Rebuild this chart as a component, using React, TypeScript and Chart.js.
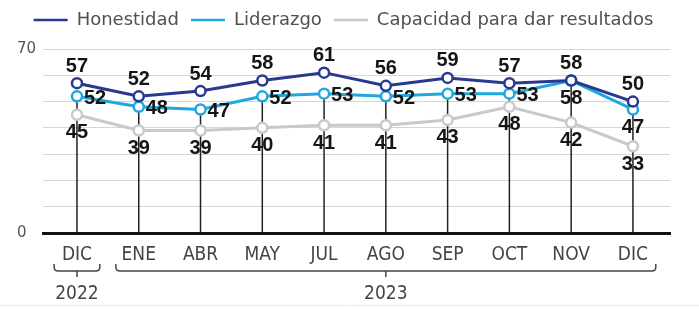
import React, { useEffect, useRef } from 'react';
import { Chart, registerables } from 'chart.js';

Chart.register(...registerables);

// ---- data ----
const months = ['DIC', 'ENE', 'ABR', 'MAY', 'JUL', 'AGO', 'SEP', 'OCT', 'NOV', 'DIC'];
const yearLabels = ['2022', '2023'];
const yearStart = [0, 1];
const yearEnd = [0, 9];
const seriesNames = ['Honestidad', 'Liderazgo', 'Capacidad para dar resultados'];
const honestidad = [57, 52, 54, 58, 61, 56, 59, 57, 58, 50];
const liderazgo = [52, 48, 47, 52, 53, 52, 53, 53, 58, 47];
const capacidad = [45, 39, 39, 40, 41, 41, 43, 48, 42, 33];
const yTickLabels = [0, 70];

// ---- styles ----
const COLORS = ['#283a8f', '#1fa8df', '#c9c9c9'];
const LABEL_POS: string[][] = [
  honestidad.map(() => 'above'),
  liderazgo.map((_, i) => (i >= 8 ? 'below' : 'right')),
  capacidad.map(() => 'below'),
];
const LIGHT_FONT = "'DejaVu Sans', sans-serif";
const COND_FONT = "'DejaVu Sans Condensed', 'Liberation Sans Narrow', 'DejaVu Sans', sans-serif";

const legendSpacer = {
  id: 'legendSpacer',
  beforeLayout(chart: any) {
    const lg: any = chart.legend;
    if (lg && !lg.__patched) {
      const orig = lg.fit.bind(lg);
      lg.fit = function () {
        orig();
        this.height = 50;
      };
      lg.__patched = true;
    }
  },
};

const dropLines = {
  id: 'dropLines',
  beforeDatasetsDraw(chart: any) {
    const ctx = chart.ctx;
    const meta = chart.getDatasetMeta(1);
    const yBottom = chart.scales.y.getPixelForValue(0);
    ctx.save();
    ctx.strokeStyle = '#222';
    ctx.lineWidth = 1.5;
    meta.data.forEach((pt: any) => {
      ctx.beginPath();
      ctx.moveTo(pt.x, pt.y);
      ctx.lineTo(pt.x, yBottom);
      ctx.stroke();
    });
    ctx.restore();
  },
};

const valueLabels = {
  id: 'valueLabels',
  afterDatasetsDraw(chart: any) {
    const ctx = chart.ctx;
    ctx.save();
    ctx.font = "bold 20px 'Liberation Sans', Arial, sans-serif";
    ctx.fillStyle = '#151515';
    ctx.textBaseline = 'middle';
    chart.data.datasets.forEach((ds: any, di: number) => {
      const meta = chart.getDatasetMeta(di);
      meta.data.forEach((pt: any, i: number) => {
        const v = ds.data[i].y;
        const pos = LABEL_POS[di][i];
        let x = pt.x;
        let y = pt.y;
        if (pos === 'above') {
          ctx.textAlign = 'center';
          y -= 17;
        } else if (pos === 'below') {
          ctx.textAlign = 'center';
          y += 18;
        } else {
          ctx.textAlign = 'left';
          x += 7;
          y += 2;
        }
        ctx.fillText(String(v), x, y);
      });
    });
    ctx.restore();
  },
};

const yearBrackets = {
  id: 'yearBrackets',
  afterDraw(chart: any) {
    const ctx = chart.ctx;
    const xs = chart.scales.x;
    const base = chart.chartArea.bottom;
    const yLine = base + 38;
    const r = 4;
    ctx.save();
    ctx.strokeStyle = '#444';
    ctx.lineWidth = 1.5;
    ctx.fillStyle = '#444';
    ctx.font = `19px ${COND_FONT}`;
    ctx.textAlign = 'center';
    ctx.textBaseline = 'middle';
    yearLabels.forEach((lab, k) => {
      const x0 = xs.getPixelForValue(yearStart[k] - 0.37);
      const x1 = xs.getPixelForValue(yearEnd[k] + 0.37);
      const xm = (x0 + x1) / 2;
      ctx.beginPath();
      ctx.moveTo(x0, yLine - 7);
      ctx.lineTo(x0, yLine - r);
      ctx.quadraticCurveTo(x0, yLine, x0 + r, yLine);
      ctx.lineTo(x1 - r, yLine);
      ctx.quadraticCurveTo(x1, yLine, x1, yLine - r);
      ctx.lineTo(x1, yLine - 7);
      ctx.moveTo(xm, yLine);
      ctx.lineTo(xm, yLine + 6);
      ctx.stroke();
      ctx.fillText(lab, xm, base + 61);
    });
    ctx.strokeStyle = '#ececec';
    ctx.lineWidth = 1;
    ctx.beginPath();
    ctx.moveTo(0, chart.height - 3.5);
    ctx.lineTo(chart.width, chart.height - 3.5);
    ctx.stroke();
    ctx.restore();
  },
};

export default function App() {
  const ref = useRef<HTMLCanvasElement | null>(null);
  useEffect(() => {
    document.body.style.margin = '0';
    const series = [honestidad, liderazgo, capacidad];
    const chart = new Chart(ref.current as HTMLCanvasElement, {
      type: 'line',
      data: {
        datasets: series.map((vals, di) => ({
          label: seriesNames[di],
          data: vals.map((v, i) => ({ x: i, y: v })),
          borderColor: COLORS[di],
          backgroundColor: '#ffffff',
          borderWidth: 3,
          pointRadius: 5,
          pointBorderWidth: 2.5,
          pointBackgroundColor: '#ffffff',
          pointBorderColor: COLORS[di],
          tension: 0,
        })),
      },
      options: {
        animation: false,
        responsive: false,
        devicePixelRatio: 1,
        layout: { padding: { left: 17, right: 29, top: -1, bottom: 0 } },
        plugins: {
          tooltip: { enabled: false },
          legend: {
            position: 'top',
            align: 'center',
            labels: {
              usePointStyle: true,
              pointStyle: 'line',
              pointStyleWidth: 34,
              padding: 12,
              color: '#505050',
              font: { family: LIGHT_FONT, size: 18 },
            },
          },
        },
        scales: {
          x: {
            type: 'linear',
            min: -0.55,
            max: 9.6,
            grid: { display: false, drawTicks: false },
            border: { display: true, color: '#111', width: 3 },
            afterFit: (s: any) => {
              s.height = 76;
            },
            ticks: {
              stepSize: 1,
              includeBounds: false,
              autoSkip: false,
              maxRotation: 0,
              padding: 11,
              color: '#444',
              font: { family: COND_FONT, size: 19 },
              callback: (v: any) => (Number.isInteger(v) && months[v] !== undefined ? months[v] : ''),
            },
          },
          y: {
            min: 0,
            max: 70,
            grid: {
              drawTicks: false,
              color: (c: any) => (c.tick && c.tick.value === 0 ? 'rgba(0,0,0,0)' : '#d6d6d6'),
              lineWidth: 1,
            },
            border: { display: false },
            afterFit: (s: any) => {
              s.width = 26;
            },
            ticks: {
              stepSize: 10,
              crossAlign: 'far',
              color: '#555',
              font: { family: LIGHT_FONT, size: 15 },
              callback: (v: any) => (yTickLabels.includes(v) ? String(v) : ''),
            },
          },
        },
      } as any,
      plugins: [legendSpacer, dropLines, valueLabels, yearBrackets],
    });
    return () => chart.destroy();
  }, []);
  return (
    <div style={{ width: 699, height: 309, background: '#fff' }}>
      <canvas ref={ref} width={699} height={309} style={{ display: 'block' }} />
    </div>
  );
}
